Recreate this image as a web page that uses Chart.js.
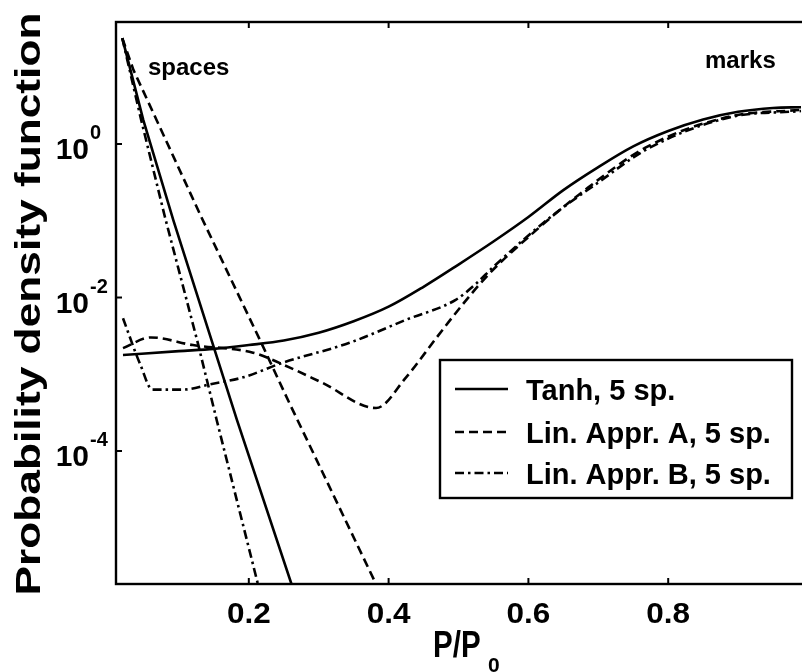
<!DOCTYPE html>
<html>
<head>
<meta charset="utf-8">
<script src="https://cdn.jsdelivr.net/npm/chart.js@4.4.1/dist/chart.umd.min.js"></script>
<style>
  html, body { margin: 0; padding: 0; background: #fff; overflow: hidden; width: 802px; height: 672px; }
  #wrap { width: 815px; height: 672px; }
</style>
</head>
<body>
<div id="wrap"><canvas id="pdf" width="815" height="672"></canvas></div>
<script>
// Axis ticks
const xTickVals = [0.2, 0.4, 0.6, 0.8];
const yTickExps = [-4, -2, 0];

// Legend entries
const methodNames = ['Tanh, 5 sp.', 'Lin. Appr. A, 5 sp.', 'Lin. Appr. B, 5 sp.'];

// Probability density of the "spaces" level, per method
const tanhSpacesX = [0.019, 0.049, 0.092, 0.183, 0.261];
const tanhSpacesY = [24.0, 2.06, 0.102, 2.54e-4, 1.85e-6];
const linASpacesX = [0.019, 0.035, 0.068, 0.132, 0.216, 0.256, 0.382];
const linASpacesY = [24.0, 9.2, 2.06, 0.112, 2.79e-3, 4.61e-4, 1.85e-6];
const linBSpacesX = [0.019, 0.046, 0.080, 0.126, 0.154, 0.213];
const linBSpacesY = [24.0, 2.06, 0.112, 2.79e-3, 2.54e-4, 1.85e-6];

// Probability density of the "marks" level, per method
const tanhMarksX = [0.02, 0.10, 0.15, 0.20, 0.25, 0.30, 0.35, 0.40, 0.45, 0.50, 0.55, 0.60, 0.65, 0.70, 0.75, 0.80, 0.85, 0.90, 0.95, 0.99];
const tanhMarksY = [1.78e-3, 2.00e-3, 2.14e-3, 2.40e-3, 2.75e-3, 3.47e-3, 4.90e-3, 7.59e-3, 0.0138, 0.0269, 0.0537, 0.112, 0.251, 0.501, 0.933, 1.48, 2.09, 2.63, 2.95, 3.02];
const linAMarksX = [0.02, 0.06, 0.12, 0.206, 0.258, 0.305, 0.382, 0.425, 0.468, 0.505, 0.543, 0.604, 0.675, 0.771, 0.889, 0.99];
const linAMarksY = [2.19e-3, 3.02e-3, 2.40e-3, 1.91e-3, 1.23e-3, 7.76e-4, 3.63e-4, 9.12e-4, 2.95e-3, 7.94e-3, 0.0200, 0.0661, 0.229, 0.933, 2.29, 2.79];
const linBMarksX = [0.02, 0.045, 0.062, 0.106, 0.145, 0.192, 0.248, 0.344, 0.425, 0.496, 0.525, 0.55, 0.629, 0.70, 0.771, 0.889, 0.99];
const linBMarksY = [5.37e-3, 1.32e-3, 6.31e-4, 6.31e-4, 7.41e-4, 9.12e-4, 1.41e-3, 2.57e-3, 5.13e-3, 9.33e-3, 0.0151, 0.0251, 0.107, 0.316, 0.871, 2.24, 2.69];

const FONT = '"Liberation Sans", Arial, Helvetica, sans-serif';
const styles = [
  { dash: [] },
  { dash: [9, 5] },
  { dash: [9, 4, 2.5, 4] }
];

const pts = (xs, ys) => xs.map((x, i) => ({ x, y: ys[i] }));

function curve(label, xs, ys, style, smooth) {
  return {
    label,
    data: pts(xs, ys),
    borderColor: '#000',
    borderWidth: 2.6,
    borderDash: style.dash,
    pointRadius: 0,
    showLine: true,
    fill: false,
    tension: 0,
    cubicInterpolationMode: smooth ? 'monotone' : 'default'
  };
}

const datasets = [
  curve(methodNames[0], tanhMarksX, tanhMarksY, styles[0], true),
  curve(methodNames[1], linAMarksX, linAMarksY, styles[1], true),
  curve(methodNames[2], linBMarksX, linBMarksY, styles[2], true),
  curve(methodNames[0] + ' spaces', tanhSpacesX, tanhSpacesY, styles[0], false),
  curve(methodNames[1] + ' spaces', linASpacesX, linASpacesY, styles[1], false),
  curve(methodNames[2] + ' spaces', linBSpacesX, linBSpacesY, styles[2], false)
];

function drawText(ctx, str, x, y, size, opts = {}) {
  ctx.save();
  ctx.font = 'bold ' + size + 'px ' + FONT;
  ctx.fillStyle = '#000';
  ctx.textBaseline = 'alphabetic';
  ctx.textAlign = opts.align || 'left';
  ctx.translate(x, y);
  if (opts.rotate) ctx.rotate(opts.rotate);
  if (opts.length) {
    const w = ctx.measureText(str).width;
    ctx.scale(opts.length / w, 1);
  } else if (opts.sx) {
    ctx.scale(opts.sx, 1);
  }
  ctx.fillText(str, 0, 0);
  ctx.restore();
}

const framePlugin = {
  id: 'frame',
  afterDatasetsDraw(chart) {
    const { ctx, chartArea: a, scales: { x, y } } = chart;
    ctx.save();
    ctx.strokeStyle = '#000';
    ctx.lineCap = 'butt';
    ctx.setLineDash([]);
    ctx.lineWidth = 2.4;
    ctx.strokeRect(a.left, a.top, a.right - a.left, a.bottom - a.top);

    const seg = (x1, y1, x2, y2) => { ctx.beginPath(); ctx.moveTo(x1, y1); ctx.lineTo(x2, y2); ctx.stroke(); };
    ctx.lineWidth = 2;
    const tl = 6;
    xTickVals.forEach(v => {
      const px = x.getPixelForValue(v);
      seg(px, a.bottom, px, a.bottom - tl);
      seg(px, a.top, px, a.top + tl);
      drawText(ctx, String(v), px, a.bottom + 39, 30, { align: 'center', sx: 1.05 });
    });
    yTickExps.forEach(e => {
      const py = y.getPixelForValue(Math.pow(10, e));
      seg(a.left, py, a.left + tl, py);
      seg(a.right, py, a.right - tl, py);
      drawText(ctx, '10', 89, py + 15, 30, { align: 'right' });
      drawText(ctx, String(e), 90, py - 5, 20, { align: 'left' });
    });

    // axis titles
    drawText(ctx, 'Probability density function', 40, 304, 35, { align: 'center', rotate: -Math.PI / 2, length: 583 });
    drawText(ctx, 'P/P', 433, 657, 36, { sx: 0.82 });
    drawText(ctx, '0', 488, 672, 21, {});

    // level annotations
    drawText(ctx, 'spaces', 148, 75, 24, {});
    drawText(ctx, 'marks', 705, 68, 24, {});

    // legend box
    const L = { left: 440, top: 360, right: 792, bottom: 498 };
    ctx.fillStyle = '#fff';
    ctx.fillRect(L.left, L.top, L.right - L.left, L.bottom - L.top);
    ctx.lineWidth = 2.4;
    ctx.strokeRect(L.left, L.top, L.right - L.left, L.bottom - L.top);
    const rows = [389, 432, 473];
    chart.data.datasets.slice(0, 3).forEach((ds, i) => {
      const ry = rows[i];
      ctx.lineWidth = 2.6;
      ctx.setLineDash(ds.borderDash);
      seg(455, ry, 508, ry);
      ctx.setLineDash([]);
      drawText(ctx, ds.label, 526, ry + 11, 29, {});
    });
    ctx.restore();
  }
};

new Chart(document.getElementById('pdf'), {
  type: 'scatter',
  data: { datasets },
  options: {
    responsive: false,
    animation: false,
    devicePixelRatio: 1,
    layout: { padding: { left: 116, top: 22, right: 7, bottom: 88 } },
    scales: {
      x: {
        type: 'linear', min: 0.01, max: 1.0, display: false,
        afterBuildTicks: s => { s.ticks = xTickVals.map(v => ({ value: v })); }
      },
      y: {
        type: 'logarithmic', min: 1.85e-6, max: 38.9, display: false,
        afterBuildTicks: s => { s.ticks = yTickExps.map(e => ({ value: Math.pow(10, e) })); }
      }
    },
    plugins: { legend: { display: false }, tooltip: { enabled: false } }
  },
  plugins: [framePlugin]
});
</script>
</body>
</html>
